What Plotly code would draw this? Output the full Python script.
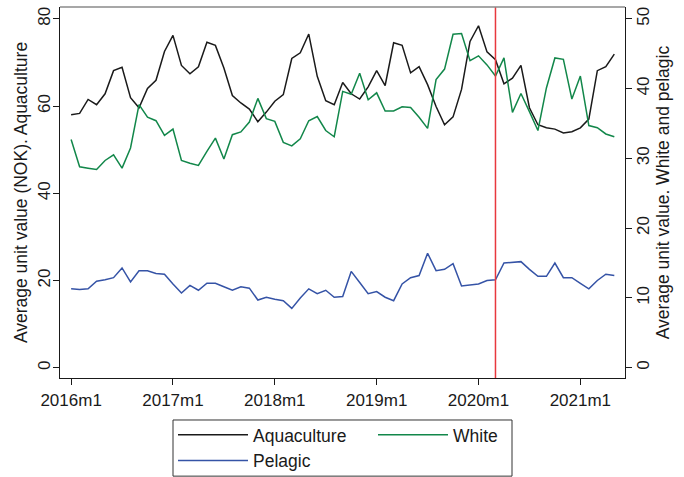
import plotly.graph_objects as go

# Monthly observations 2016m1 .. 2021m5
months = [f"{2016 + i // 12}m{i % 12 + 1}" for i in range(65)]

aquaculture = [58.0, 58.3, 61.5, 60.3, 62.8, 68.1, 68.9, 61.9, 59.6, 64.0, 65.9, 72.5,
               76.2, 69.3, 67.4, 69.0, 74.6, 73.9, 68.7, 62.4, 60.7, 59.3, 56.4, 58.6,
               61.1, 62.6, 70.9, 72.2, 76.5, 66.8, 61.2, 60.3, 65.4, 62.8, 61.6, 64.4,
               68.1, 64.7, 74.5, 73.9, 67.6, 69.0, 64.9, 59.9, 55.7, 57.5, 63.8, 74.8,
               78.4, 72.4, 70.6, 65.1, 66.4, 69.3, 59.6, 55.7, 55.0, 54.7, 53.8, 54.1,
               55.0, 57.0, 68.1, 69.0, 71.9]

white = [32.7, 28.8, 28.6, 28.4, 29.7, 30.5, 28.6, 31.5, 37.7, 35.9, 35.4, 33.3,
         34.2, 29.7, 29.3, 29.0, 31.0, 32.9, 29.9, 33.4, 33.8, 35.2, 38.6, 35.7,
         35.3, 32.3, 31.8, 32.8, 35.4, 36.0, 34.0, 33.1, 39.6, 39.2, 42.2, 38.4,
         39.4, 36.8, 36.8, 37.4, 37.3, 35.9, 34.3, 41.3, 42.8, 47.8, 47.9, 44.0,
         44.7, 43.4, 41.8, 44.4, 36.6, 39.3, 36.7, 34.0, 40.1, 44.4, 44.2, 38.5,
         41.8, 34.7, 34.4, 33.5, 33.1]

pelagic = [11.3, 11.2, 11.3, 12.4, 12.6, 12.9, 14.3, 12.3, 13.9, 13.9, 13.5, 13.4,
           12.0, 10.7, 11.8, 11.1, 12.1, 12.1, 11.6, 11.1, 11.6, 11.4, 9.7, 10.1,
           9.8, 9.6, 8.5, 10.0, 11.3, 10.6, 11.1, 10.1, 10.2, 13.8, 12.2, 10.6,
           10.9, 10.1, 9.6, 12.0, 12.9, 13.2, 16.4, 13.9, 14.1, 14.9, 11.7, 11.8,
           12.0, 12.5, 12.6, 15.0, 15.1, 15.2, 14.1, 13.1, 13.1, 15.0, 12.9, 12.9,
           12.1, 11.3, 12.5, 13.4, 13.2]

tick_labels = ["2016m1", "2017m1", "2018m1", "2019m1", "2020m1", "2021m1"]
event_month = "2020m3"

x = list(range(len(months)))
tickvals = [months.index(t) for t in tick_labels]
event_x = months.index(event_month)

FONT = "Liberation Sans, Arial, Helvetica, sans-serif"
BLACK = "#1a1a1a"
GREEN = "#12874a"
BLUE = "#3553a6"
RED = "#e8383d"

fig = go.Figure()
fig.add_trace(go.Scatter(x=x, y=aquaculture, name="Aquaculture", mode="lines",
                         line=dict(color=BLACK, width=1.5), yaxis="y"))
fig.add_trace(go.Scatter(x=x, y=white, name="White", mode="lines",
                         line=dict(color=GREEN, width=1.5), yaxis="y2"))
fig.add_trace(go.Scatter(x=x, y=pelagic, name="Pelagic", mode="lines",
                         line=dict(color=BLUE, width=1.5), yaxis="y2"))

fig.add_shape(type="line", xref="x", yref="paper", x0=event_x, x1=event_x, y0=0, y1=1,
              line=dict(color=RED, width=1.5))
fig.add_shape(type="line", xref="paper", yref="paper", x0=0, x1=1, y0=1, y1=1,
              line=dict(color="#8a8a8a", width=1.5))
# legend frame
fig.add_shape(type="rect", xref="paper", yref="paper", x0=0.2, x1=0.8, y0=-0.2645, y1=-0.1132,
              line=dict(color="#333333", width=1), fillcolor="rgba(0,0,0,0)")

axis_common = dict(showgrid=False, zeroline=False, showline=True, linecolor=BLACK, linewidth=1.3,
                   ticks="outside", ticklen=6, tickcolor=BLACK, tickwidth=1.2,
                   tickfont=dict(family=FONT, size=17, color=BLACK))

fig.update_layout(
    width=684, height=477,
    margin=dict(l=60, r=59, t=7, b=99, autoexpand=False),
    paper_bgcolor="white", plot_bgcolor="white",
    font=dict(family=FONT, size=17, color=BLACK),
    xaxis=dict(range=[-1.31, 65.26], tickvals=tickvals, ticktext=tick_labels, **axis_common),
    yaxis=dict(range=[-2.36, 82.7], tickvals=[0, 20, 40, 60, 80], tickangle=-90,
               ticklabelstandoff=-4,
               title=dict(text="Average unit value (NOK). Aquaculture",
                          font=dict(family=FONT, size=17.5, color=BLACK), standoff=2),
               **axis_common),
    yaxis2=dict(range=[-1.48, 51.7], tickvals=[0, 10, 20, 30, 40, 50], tickangle=-90,
                overlaying="y", side="right", ticklabelstandoff=-4,
                title=dict(text="Average unit value. White and pelagic",
                           font=dict(family=FONT, size=17.5, color=BLACK), standoff=2),
                **axis_common),
    legend=dict(orientation="h", x=0.2, y=-0.105, xanchor="left", yanchor="top",
                borderwidth=0, bgcolor="rgba(0,0,0,0)",
                font=dict(family=FONT, size=17.5, color=BLACK),
                entrywidth=115, entrywidthmode="pixels", itemwidth=70,
                tracegroupgap=0),
    showlegend=True,
)

fig.write_html("out.html", config={"displayModeBar": False},
               post_script="document.body.style.margin='0';")
